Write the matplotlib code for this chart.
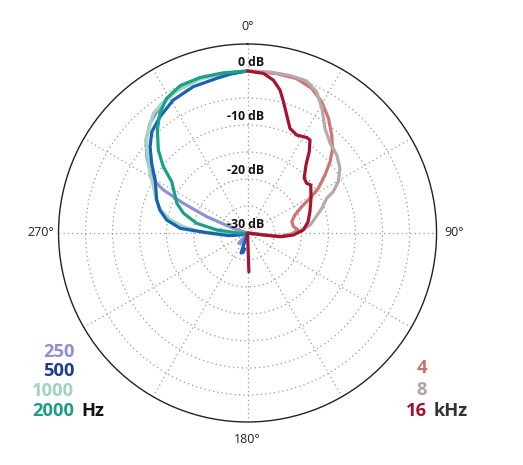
import os
import numpy as np
import matplotlib.pyplot as plt
import matplotlib.font_manager as fm

plt.rcParams['font.family'] = ['Open Sans', 'DejaVu Sans']

# polar pattern, angle in degrees (clockwise from front), level in dB
low_labels = ['250', '500', '1000', '2000']
high_labels = ['4', '8', '16']

ang_250 = [360, 351, 342.9, 333.7, 325.3, 318.4, 312.5, 307.1, 302.9, 299, 297.1, 294.8, 291.8, 288.3, 284,
           228, 220, 212, 205, 180]
db_250 = [0, -0.2, 0, -0.45, -1.5, -2.8, -4.5, -6.6, -8.5, -10.4, -12.5, -16.9, -21.9, -27.2, -30,
          -30, -27.5, -27.8, -30, -30]

ang_500 = [360, 354, 348.7, 339.7, 330.8, 323, 316.6, 311.5, 306, 299.8, 290, 284.7, 279.1, 274, 270.4, 262, 255, 245,
           206, 198, 193, 190]
db_500 = [0, -0.4, -0.8, -1.1, -1.8, -3.05, -4.2, -5.9, -8.05, -10.3, -12.1, -13.2, -14.85, -17.5, -22.4, -26.5, -28.6, -30,
          -30, -26.1, -26.3, -27.0]

ang_1000 = [360, 351, 343, 334, 326, 321.8, 318, 313.7, 310, 306.4, 301, 296.2, 290, 284.7, 280, 275.6, 272, 269.4, 262, 255, 180]
db_1000 = [0, -0.1, -0.2, -0.6, -1.3, -1.8, -3.0, -4.2, -5.6, -7.2, -8.9, -10.6, -12.0, -13.4, -15.3, -18.1, -21, -24.3, -28, -30, -30]

ang_2000 = [360, 351.4, 343.1, 335.5, 329, 323.8, 318.8, 312.9, 308.2, 304.1, 298.5, 292.8, 287.1, 280.8, 275.6, 268, 262, 180]
db_2000 = [0, 0, 0.1, 0, -0.9, -2.5, -4.65, -7.45, -10.15, -13.05, -14.6, -15.8, -17.6, -20.4, -24.3, -28.6, -30, -30]

ang_4k = [0, 10.3, 17.6, 23.9, 29.5, 35.2, 40.7, 45.2, 49.2, 53.2, 57.7, 61, 64.1, 69.2, 75.7, 82.2, 86.6, 91, 96, 97,
          105, 180]
db_4k = [0, 0, 0, -0.7, -2.1, -4.0, -6.1, -7.8, -9.8, -12.1, -14.5, -16.8, -18.85, -20.6, -21.55, -21.4, -20.6, -21.8, -23.8, -27,
         -30, -30]

ang_8k = [0, 7.9, 14.9, 21.2, 26.1, 30.8, 36.5, 42.6, 48.8, 55, 60.5, 64.3, 66.3, 71.6, 77.7, 82.7, 88.6, 95.9, 96, 105, 180]
db_8k = [0, 0.1, 0.2, 0.2, -0.9, -3.1, -5.9, -7.4, -8.05, -9.1, -10.7, -12.4, -14.0, -15.5, -17.2, -18.3, -20.3, -23.3, -26.4, -30, -30]

ang_16k = [0, 5.7, 9.6, 12.8, 15.3, 18.4, 22.1, 26.7, 31.8, 33.9, 37.2, 40.7, 45.9, 50, 52.8, 61.3, 71.2, 79.5, 86.9,
           92.5, 96.5, 97.2, 110, 176, 178]
db_16k = [0, -0.3, -1.3, -2.85, -4.8, -7.0, -9.1, -9.7, -9.2, -9.25, -11.1, -13.4, -15.4, -15.7, -15.3, -16.6, -17.8, -18.6, -19.65,
          -21.5, -23.9, -27.05, -30, -30, -22.8]

ring_db = [0, -10, -20, -30]

col_250 = '#8e92d4'
col_500 = '#1862b6'
col_1000 = '#a2d6c2'
col_2000 = '#1ba088'
col_4k = '#d07474'
col_8k = '#b9a8a8'
col_16k = '#a5142f'


# pick static font files so bold is really bold (and not a condensed cut)
font_files = sorted(fm.findSystemFonts())


def find_font(keys, bad):
    for f in font_files:
        n = os.path.basename(f).lower().replace('-', '').replace('_', '').replace(' ', '')
        if all(k in n for k in keys) and not any(b in n for b in bad):
            return f
    return None


bad_cuts = ['condensed', 'semi', 'extra', 'italic', 'light', 'medium', 'black', 'cjk', 'mono', 'display', 'thin', '[']
bold_file = find_font(['opensans', 'bold'], bad_cuts) or find_font(['notosans', 'bold'], bad_cuts)
reg_file = find_font(['opensans', 'regular'], bad_cuts) or find_font(['notosans', 'regular'], bad_cuts)
if bold_file:
    fp_bold = fm.FontProperties(fname=bold_file)
else:
    fp_bold = fm.FontProperties(family='DejaVu Sans', weight='bold')
if reg_file:
    fp_reg = fm.FontProperties(fname=reg_file)
else:
    fp_reg = fm.FontProperties(family='DejaVu Sans')

W, H = 523, 465
fig = plt.figure(figsize=(W / 100, H / 100), dpi=100)
ax = fig.add_axes([0.1119, 0.0925, 0.7228, 0.8129], projection='polar')
ax.set_theta_zero_location('N')
ax.set_theta_direction(-1)
ax.set_rlim(-30, 5)

ax.set_rgrids([-25, -20, -15, -10, -5, 0], labels=[''] * 6)
ax.set_thetagrids(np.arange(0, 360, 30), labels=[''] * 12)
ax.grid(True, color='#9a9a9a', linestyle=(0, (1, 2.5)), linewidth=0.9)
ax.spines['polar'].set_color('#222222')
ax.spines['polar'].set_linewidth(1.0)

lw = 2.3
curves = [(ang_250, db_250, col_250), (ang_1000, db_1000, col_1000),
          (ang_500, db_500, col_500), (ang_2000, db_2000, col_2000),
          (ang_4k, db_4k, col_4k), (ang_8k, db_8k, col_8k), (ang_16k, db_16k, col_16k)]
for a, d, c in curves:
    ax.plot(np.deg2rad(a), d, color=c, lw=lw, solid_capstyle='round', solid_joinstyle='round')

for v in ring_db:
    ax.annotate(f'{v} dB', xy=(0, v), xytext=(17, 2), textcoords='offset pixels',
                ha='right', va='bottom', fontproperties=fp_bold, fontsize=8.8, color='#111111')

for a in [0, 90, 180, 270]:
    ax.text(np.deg2rad(a), 8.3, f'{a}°', ha='center', va='center', fontproperties=fp_reg,
            fontsize=9, color='#222222')


def fx(x):
    return x / W


def fy(y):
    return 1 - y / H


low_cols = ['#8e8fcc', '#1e3d92', '#9fd3bf', '#1b9e86']
low_y = [351.7, 370.7, 390.7, 411.2]
for lab, c, y in zip(low_labels, low_cols, low_y):
    fig.text(fx(74.5), fy(y), lab, ha='right', va='center', fontproperties=fp_bold, fontsize=13.2, color=c)
fig.text(fx(81.5), fy(low_y[-1]), 'Hz', ha='left', va='center', fontproperties=fp_bold, fontsize=13.2, color='#111111')

high_cols = ['#cf6f72', '#b3a2a2', '#a3102e']
high_y = [367.7, 390.0, 411.2]
for lab, c, y in zip(high_labels, high_cols, high_y):
    fig.text(fx(426.7), fy(y), lab, ha='right', va='center', fontproperties=fp_bold, fontsize=13.2, color=c)
fig.text(fx(433.3), fy(high_y[-1]), 'kHz', ha='left', va='center', fontproperties=fp_bold, fontsize=13.2, color='#333333')

fig.savefig('out.png', dpi=100, facecolor='white')
